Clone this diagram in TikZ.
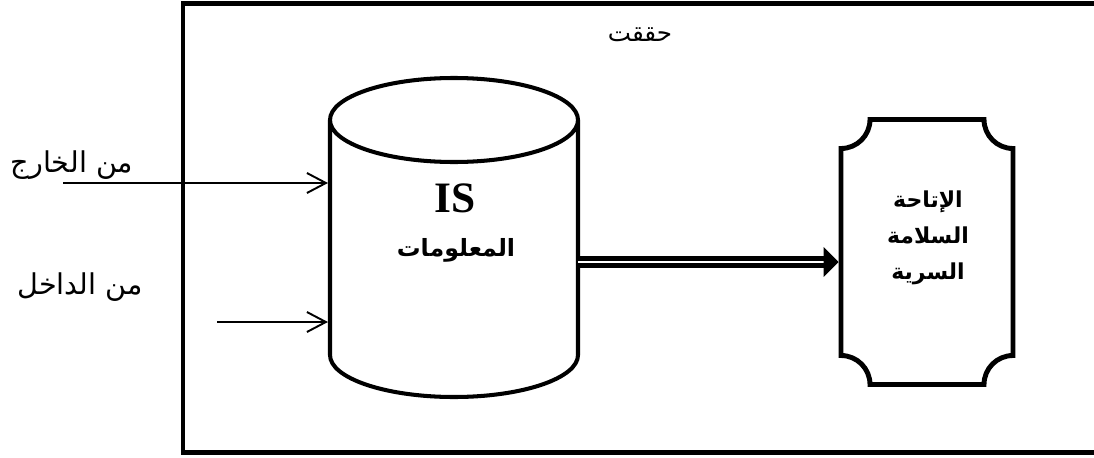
\documentclass[tikz,border=0pt]{standalone}
\usepackage{fontspec}
\usetikzlibrary{arrows.meta}
\TeXXeTstate=1
\newfontfamily\arabicfont[Script=Arabic]{DejaVu Sans}
\newfontfamily\latinserif{Liberation Serif}

\tikzset{
  side label/.style={font=\arabicfont\fontsize{16.3}{16.3}\selectfont},
  box label/.style={font=\arabicfont\bfseries\fontsize{12.5}{20.5}\selectfont, align=center},
  feed/.style={line width=1.1pt, shorten >=1.15pt, -{Straight Barb[length=0.38cm,width=0.4cm]}},
}

\begin{document}
\begin{tikzpicture}
  \useasboundingbox (0,0) rectangle (21.88,9.14);

  % outer frame, runs off to the right
  \draw[line width=2.7pt] (22.4,9.07) -- (3.66,9.07) -- (3.66,0.09) -- (22.4,0.09);
  \node[font=\arabicfont\fontsize{14}{14}\selectfont] (achieved) at (12.8,8.44) {\beginR حققت\endR};

  % data store
  \node[minimum width=4.96cm, minimum height=6.38cm, inner sep=0pt, outer sep=0pt] (db) at (9.08,4.39) {};
  \draw[line width=2.3pt]
    ([yshift=-0.84cm]db.north west) -- ([yshift=0.84cm]db.south west)
    arc[start angle=180, end angle=360, x radius=2.48cm, y radius=0.84cm]
    -- ([yshift=-0.84cm]db.north east)
    arc[start angle=0, end angle=180, x radius=2.48cm, y radius=0.84cm]
    arc[start angle=180, end angle=360, x radius=2.48cm, y radius=0.84cm];
  \node[font=\latinserif\bfseries\fontsize{24.7}{24.7}\selectfont] (is) at (9.10,5.18) {IS};
  \node[box label, font=\arabicfont\bfseries\fontsize{13.5}{13.5}\selectfont] (info) at (9.12,4.14) {\beginR المعلومات\endR};

  % feeds from outside and inside
  \coordinate (outsrc) at (1.26,5.48);
  \coordinate (insrc) at (4.34,2.70);
  \node[side label] (outside) at (1.44,5.84) {\beginR من الخارج\endR};
  \node[side label] (inside) at (1.60,3.40) {\beginR من الداخل\endR};
  \draw[feed] (outsrc) -- (db.west |- outsrc);
  \draw[feed] (insrc) -- (db.west |- insrc);

  % goals plaque, concave corners
  \node[minimum width=3.44cm, minimum height=5.30cm, inner sep=0pt, outer sep=0pt] (goals) at (18.54,4.10) {};
  \draw[line width=2.8pt]
    ([yshift=-0.58cm]goals.north west) arc[start angle=-90, end angle=0, radius=0.58cm]
    -- ([xshift=-0.58cm]goals.north east) arc[start angle=180, end angle=270, radius=0.58cm]
    -- ([yshift=0.58cm]goals.south east) arc[start angle=90, end angle=180, radius=0.58cm]
    -- ([xshift=0.58cm]goals.south west) arc[start angle=0, end angle=90, radius=0.58cm]
    -- cycle;
  \node[box label] (goaltext) at (18.56,4.39)
    {\beginR الإتاحة\endR\\ \beginR السلامة\endR\\ \beginR السرية\endR};

  % store to goals
  \draw[line width=2.56pt, double, double distance=1.7pt, shorten >=1.4pt, -{Triangle[length=0.3cm,width=0.58cm]}]
    ([yshift=-0.49cm]db.east) -- ([yshift=-0.49cm]db.east -| goals.west);
\end{tikzpicture}
\end{document}
